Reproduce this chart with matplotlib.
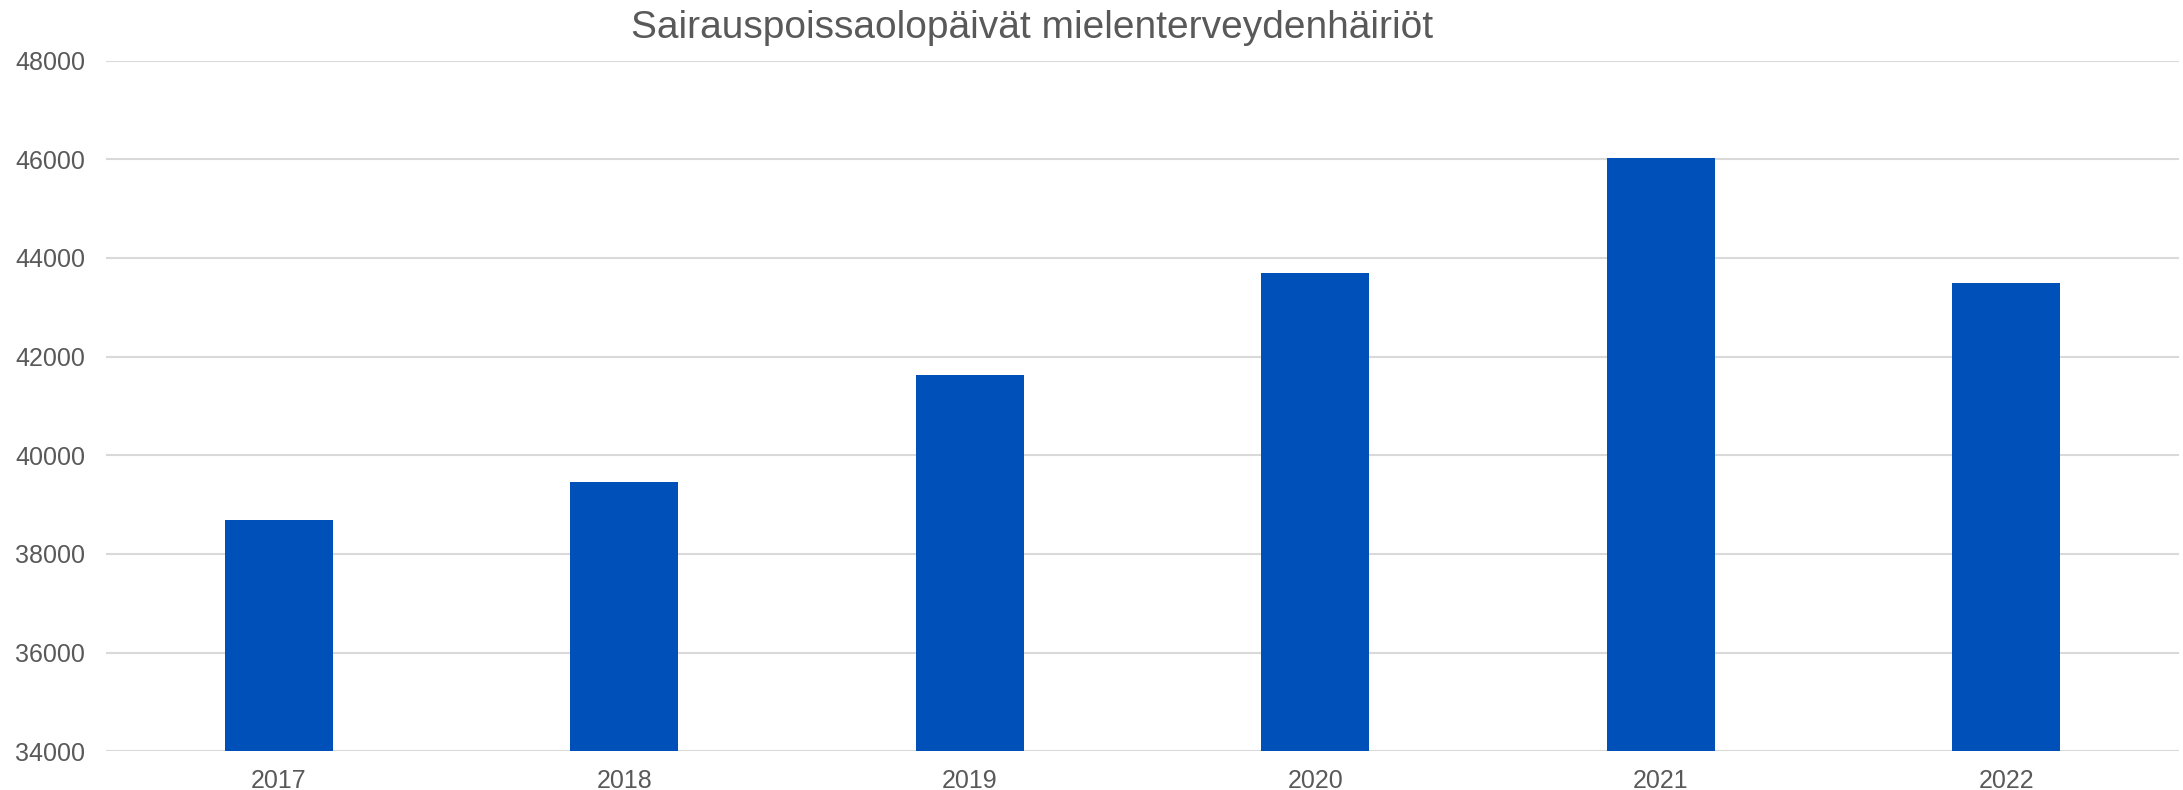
import matplotlib
matplotlib.use("Agg")
import matplotlib.pyplot as plt

years = ["2017", "2018", "2019", "2020", "2021", "2022"]
values = [38690, 39465, 41620, 43690, 46030, 43485]
yticks = [34000, 36000, 38000, 40000, 42000, 44000, 46000, 48000]
title = "Sairauspoissaolopäivät mielenterveydenhäiriöt"

plt.rcParams['font.family'] = ['Liberation Sans', 'DejaVu Sans']

fig = plt.figure(figsize=(21.83, 7.90), dpi=100)
ax = fig.add_axes([0.04856, 0.0489, 0.94961, 0.8745])

x = list(range(len(years)))
ax.bar(x, values, width=0.314, color="#0050BA", zorder=3)

ax.set_xlim(-0.5, len(years) - 0.5)
ax.set_ylim(34000, 48000)
ax.set_yticks(yticks)
ax.set_yticklabels([str(t) for t in yticks])
ax.set_xticks(x)
ax.set_xticklabels(years)

ax.grid(axis='y', color="#d9d9d9", linewidth=1.5, zorder=0)
for s in ax.spines.values():
    s.set_visible(False)
ax.tick_params(axis='both', length=0, labelsize=18, colors="#595959")
ax.tick_params(axis='y', pad=15)
ax.tick_params(axis='x', pad=13)

fig.text(0.473, 0.965, title, ha='center', va='center', fontsize=28, color="#595959")

fig.savefig("out.png", dpi=100)
